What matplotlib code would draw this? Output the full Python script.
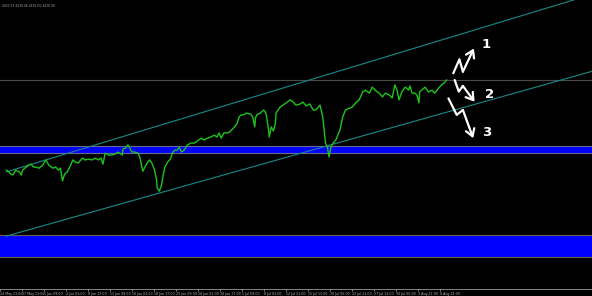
import matplotlib
matplotlib.use('Agg')
import matplotlib.pyplot as plt

# hourly bar index of each traced vertex and its close
bars = [0, 4, 7, 10, 14, 19, 22, 24, 29, 33, 36, 40, 43, 48, 53, 58, 62, 68, 72, 76,
        79, 82, 85, 89, 94, 97, 101, 105, 111, 115, 120, 125, 130, 134, 138, 141, 144,
        150, 154, 159, 163, 169, 170, 174, 177, 180, 183, 187, 192, 195, 197, 199, 202,
        206, 209, 212, 216, 219, 220, 223, 226, 228, 231, 235, 239, 242, 245, 249, 252,
        255, 259, 264, 269, 274, 278, 284, 288, 293, 298, 303, 307, 310, 313, 317, 323,
        327, 331, 336, 339, 342, 346, 350, 356, 359, 362, 363, 365, 370, 375, 378, 379,
        382, 383, 386, 389, 392, 393, 399, 403, 408, 414, 418, 422, 428, 432, 437, 442,
        447, 451, 457, 461, 464, 465, 468, 470, 473, 476, 480, 486, 490, 494, 500, 504,
        509, 514, 519, 523, 529, 533, 537, 543, 548, 552, 558, 562, 566, 569, 572, 576,
        581, 586, 588, 591, 595, 598, 601, 602, 605, 610, 615, 620, 624, 630, 634, 638, 641]
closes = [4198, 4193, 4187, 4185, 4198, 4193, 4185, 4198, 4206, 4211, 4214, 4206, 4206,
          4203, 4211, 4225, 4211, 4203, 4206, 4198, 4203, 4169, 4187, 4193, 4211, 4225,
          4219, 4217, 4230, 4225, 4227, 4225, 4230, 4225, 4230, 4214, 4243, 4238, 4238,
          4241, 4246, 4238, 4254, 4257, 4265, 4257, 4246, 4246, 4243, 4230, 4211, 4195,
          4206, 4219, 4225, 4217, 4198, 4172, 4150, 4142, 4156, 4179, 4206, 4219, 4227,
          4243, 4251, 4251, 4259, 4246, 4251, 4265, 4270, 4270, 4275, 4283, 4278, 4283,
          4286, 4291, 4286, 4297, 4283, 4297, 4297, 4302, 4310, 4321, 4339, 4345, 4345,
          4350, 4347, 4339, 4313, 4337, 4345, 4350, 4358, 4350, 4342, 4305, 4286, 4313,
          4302, 4323, 4350, 4366, 4371, 4377, 4385, 4379, 4371, 4374, 4379, 4369, 4374,
          4358, 4358, 4371, 4339, 4286, 4270, 4257, 4233, 4259, 4270, 4278, 4305, 4339,
          4358, 4363, 4366, 4377, 4385, 4406, 4411, 4403, 4419, 4411, 4403, 4393, 4403,
          4398, 4390, 4425, 4411, 4385, 4406, 4419, 4411, 4422, 4403, 4403, 4398, 4377,
          4406, 4411, 4419, 4406, 4411, 4403, 4417, 4425, 4430, 4438]

bid_price = 4438
ohlc_text = '4437.67 4438.46 4436.00 4438.08'

# support zones (low, high)
zone_upper = (4243, 4263)
zone_lower = (3966, 4024)

# rising channel, two end points each
channel_bars = [0, 853]
channel_top = [4193, 4666]
channel_bottom = [4022, 4461]

tick_bars = [-9, 23, 55, 87, 119, 151, 183, 215, 247, 279, 311, 343, 375, 407, 439,
             471, 503, 535, 567, 599, 631]
tick_labels = ['24 May 21:00', '27 May 13:00', '1 Jun 09:00', '4 Jun 01:00', '8 Jun 17:00',
               '11 Jun 09:00', '16 Jun 01:00', '18 Jun 17:00', '23 Jun 09:00', '28 Jun 01:00',
               '30 Jun 17:00', '5 Jul 09:00', '8 Jul 01:00', '12 Jul 21:00', '15 Jul 13:00',
               '20 Jul 05:00', '22 Jul 21:00', '27 Jul 13:00', '30 Jul 05:00', '3 Aug 21:00',
               '6 Aug 13:00']

# hand drawn scenarios: (bars, prices, label position, label)
scenarios = [
    ([651, 660, 665, 681], [4456, 4493, 4460, 4522], (699, 4533), '1'),
    ([653, 659, 665, 682], [4438, 4407, 4422, 4380], (704, 4398), '2'),
    ([644, 656, 665, 680], [4389, 4345, 4358, 4283], (699, 4297), '3'),
]

fig = plt.figure(figsize=(5.92, 2.96), dpi=100, facecolor='black')
ax = fig.add_axes([0, 7.3 / 296, 1, 288.7 / 296])
ax.set_facecolor('black')
ax.set_xlim(0, 853)
ax.set_ylim(3882, 4651)

ax.axhspan(zone_upper[0], zone_upper[1], color='#0000ff', lw=0, zorder=1)
ax.axhline(zone_upper[0], color='#6a6a8c', lw=0.8, zorder=1.5)
ax.axhline(zone_upper[1], color='#6a6a8c', lw=0.8, zorder=1.5)
ax.axhspan(zone_lower[0], zone_lower[1], color='#0000ff', lw=0, zorder=1)
ax.axhline(zone_lower[0], color='#6b5f45', lw=0.8, zorder=1.5)
ax.axhline(zone_lower[1], color='#6b5f45', lw=0.8, zorder=1.5)

ax.axhline(bid_price, color='#4a4a4a', lw=0.8, zorder=1.2)

ax.plot(channel_bars, channel_top, color='#178a8a', lw=0.8, zorder=2)
ax.plot(channel_bars, channel_bottom, color='#178a8a', lw=0.8, zorder=2)

ax.plot(bars, closes, color='#1cc41c', lw=1.0, zorder=3)

for xs, ys, (lx, ly), lab in scenarios:
    ax.plot(xs[:-1], ys[:-1], color='white', lw=1.6, solid_capstyle='round',
            solid_joinstyle='round', zorder=4)
    ax.annotate('', xy=(xs[-1], ys[-1]), xytext=(xs[-2], ys[-2]),
                arrowprops=dict(arrowstyle='->,head_length=0.5,head_width=0.32',
                                color='white', lw=1.6, shrinkA=0, shrinkB=0), zorder=4)
    ax.text(lx, ly, lab, color='white', fontsize=9.5, fontweight='bold',
            ha='center', va='center', zorder=4)

for s in ['top', 'left', 'right']:
    ax.spines[s].set_visible(False)
ax.spines['bottom'].set_color('#9a9a9a')
ax.spines['bottom'].set_linewidth(0.6)
ax.set_yticks([])
ax.set_xticks(tick_bars)
ax.set_xticklabels(tick_labels, ha='left')
ax.tick_params(axis='x', colors='#b4b4b4', labelsize=2.3, length=1.5, width=0.5, pad=0.6)

fig.text(2 / 592, 1 - 6 / 296, ohlc_text, fontsize=2.2, color='#a0a0a0', va='center')

fig.savefig('out.png', dpi=100, facecolor='black')
